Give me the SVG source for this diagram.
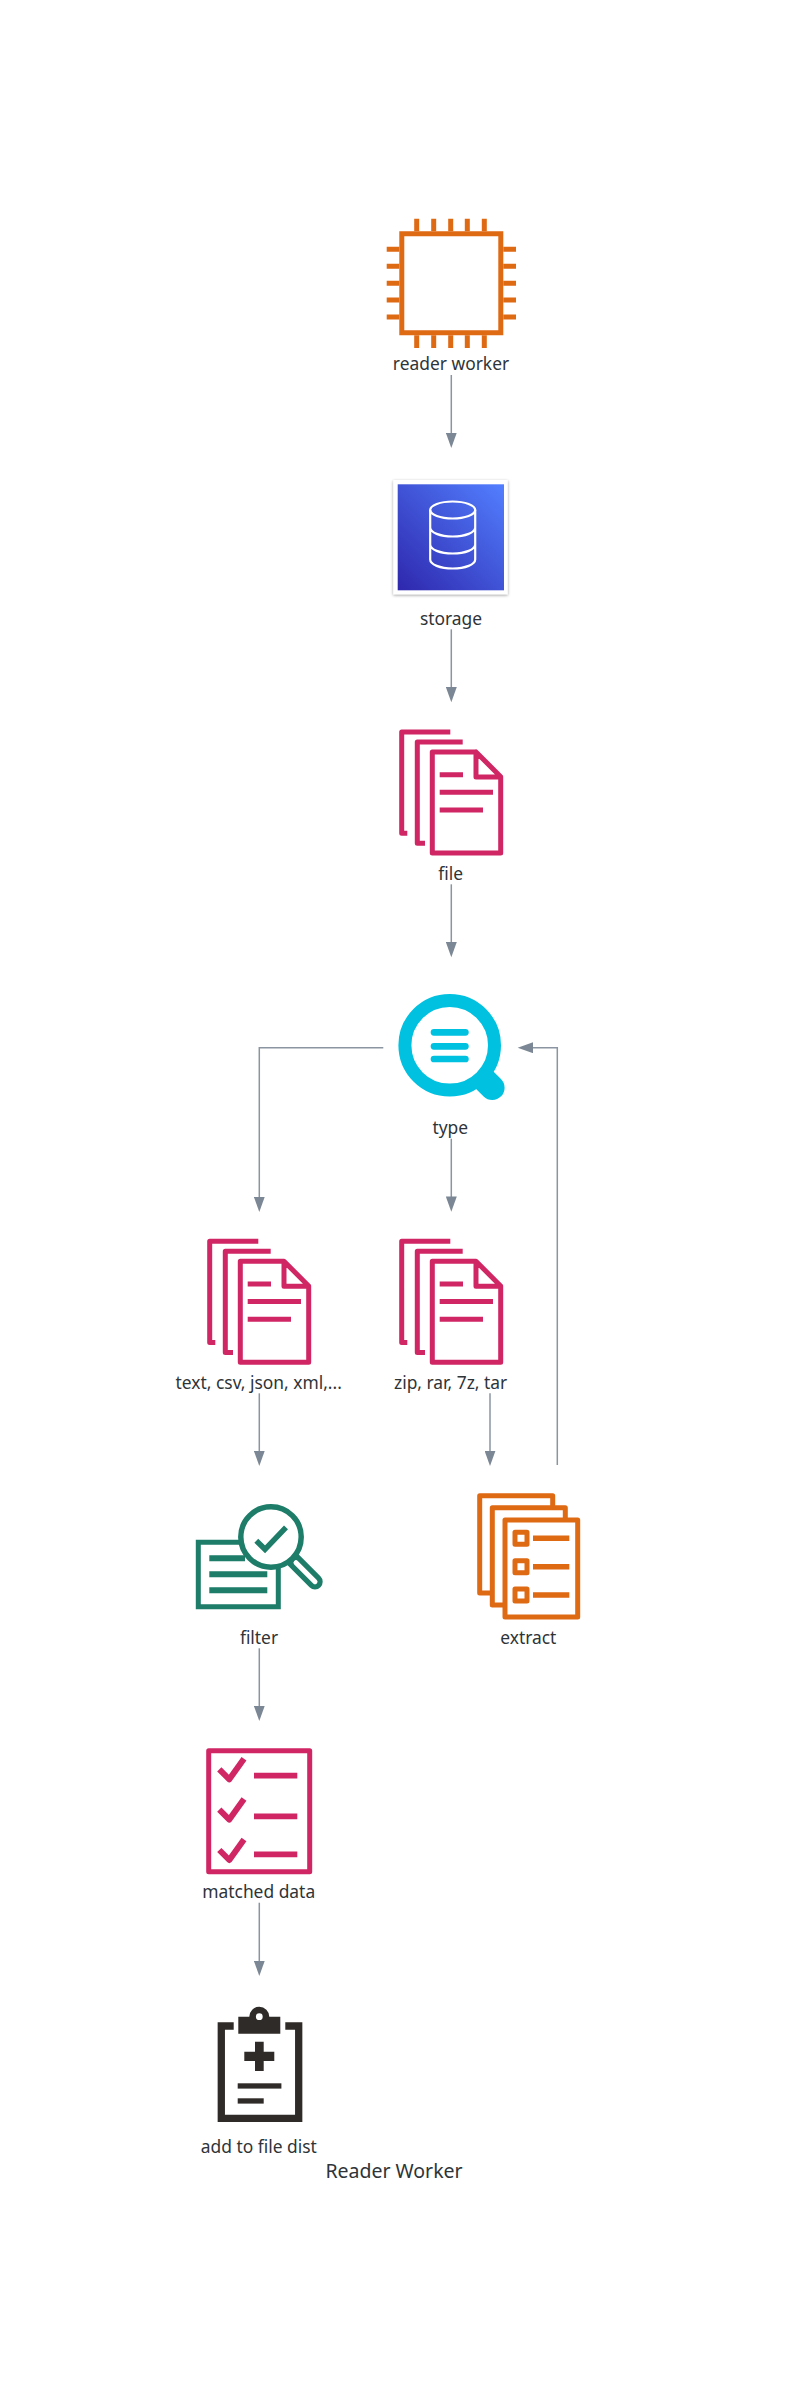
<svg xmlns="http://www.w3.org/2000/svg" width="788" height="2383" viewBox="0 0 788 2383">
<style>
text{font-family:"Noto Sans","Open Sans",sans-serif;font-size:17.4px;fill:#2e3438;text-anchor:middle}
.t{font-size:19.5px}
.c{fill:none;stroke:#8a95a1;stroke-width:1.5}
.o,.p,.g,.k,.b{fill:none}
.o{stroke:#df6a14;stroke-width:5;stroke-linejoin:round}
.p{stroke:#d02664;stroke-width:5;stroke-linejoin:round}
.g{stroke:#1d7d69;stroke-width:5.5}
.k{stroke:#2f2b28}
.b{stroke:#00c1e0;stroke-width:6.7;stroke-linecap:round}
</style>
<defs>
<marker id="a" markerUnits="userSpaceOnUse" markerWidth="16" markerHeight="11" refX="10.3" refY="5.5" viewBox="0 0 16 11" orient="auto"><path d="M0 0L15.3 5.5L0 11Z" fill="#7b8794"/></marker>
<linearGradient id="sg" x1="0" y1="1" x2="1" y2="0"><stop offset="0" stop-color="#2e27ad"/><stop offset="1" stop-color="#527fff"/></linearGradient>
<filter id="sh" x="-10%" y="-10%" width="120%" height="120%"><feDropShadow dx="0" dy="1" stdDeviation="1.5" flood-color="#000" flood-opacity=".4"/></filter>
<g id="docs">
<path class="p" d="M450.3 732H401.7V833.3H407.3M462.7 742H417.3V843.3H425M476 752H432.3V853H500.7V776.7L476 752V777H500.7M439.7 774.7H463M439.7 792.3H493M439.7 810H483"/>
</g>
</defs>
<rect width="788" height="2383" fill="#fff"/>
<g id="connectors">
<path class="c" d="M451.3 375V443" marker-end="url(#a)"/>
<path class="c" d="M451.3 629.3V697.3" marker-end="url(#a)"/>
<path class="c" d="M451.3 884.3V952.3" marker-end="url(#a)"/>
<path class="c" d="M383.3 1047.7H259.3V1207" marker-end="url(#a)"/>
<path class="c" d="M451.3 1138.7V1206.7" marker-end="url(#a)"/>
<path class="c" d="M557.3 1465V1047.7H522.7" marker-end="url(#a)"/>
<path class="c" d="M259.3 1393.3V1461" marker-end="url(#a)"/>
<path class="c" d="M490 1393.3V1461" marker-end="url(#a)"/>
<path class="c" d="M259.3 1648.3V1716" marker-end="url(#a)"/>
<path class="c" d="M259.3 1902.7V1971" marker-end="url(#a)"/>
</g>
<g id="reader-worker">
<path class="o" style="stroke-linejoin:miter" d="M401.8 233.8H500.8V332.8H401.8Z"/>
<path class="o" style="stroke-linejoin:miter" d="M416.7 218.7V231.3M433.7 218.7V231.3M450.7 218.7V231.3M467.3 218.7V231.3M484.3 218.7V231.3M416.7 335.3V348M433.7 335.3V348M450.7 335.3V348M467.3 335.3V348M484.3 335.3V348M386.7 249.3H399.3M386.7 266.3H399.3M386.7 283.3H399.3M386.7 300H399.3M386.7 317H399.3M503.3 249.3H516M503.3 266.3H516M503.3 283.3H516M503.3 300H516M503.3 317H516"/>
<text x="451" y="370">reader worker</text>
</g>
<g id="storage">
<rect x="393.3" y="480" width="114.4" height="114.3" fill="#fff" filter="url(#sh)"/>
<rect x="397.7" y="484.3" width="106.3" height="106" fill="url(#sg)"/>
<g fill="none" stroke="#fff" stroke-width="2.2">
<ellipse cx="452.7" cy="510" rx="22.5" ry="8.5"/>
<path d="M430.2 510V559.5C430.2 564.5 440 568.5 452.7 568.5S475.2 564.5 475.2 559.5V510M430.2 527.5C430.2 532.5 440 536.5 452.7 536.5S475.2 532.5 475.2 527.5M430.2 544.5C430.2 549.5 440 553.5 452.7 553.5S475.2 549.5 475.2 544.5"/>
</g>
<text x="451" y="625">storage</text>
</g>
<g id="file">
<use href="#docs"/>
<text x="450.7" y="879.6">file</text>
</g>
<g id="type">
<path d="M481.5 1077L492.3 1087.7" stroke="#00c1e0" stroke-width="24.6" stroke-linecap="round" fill="none"/>
<circle cx="449.7" cy="1045.3" r="44.8" fill="#fff" stroke="#00c1e0" stroke-width="13"/>
<path class="b" d="M434 1032.3H465.4M434 1046.3H465.4M434 1059H465.4"/>
<text x="450.3" y="1134">type</text>
</g>
<g id="text-files">
<use href="#docs" transform="translate(-192 509.3)"/>
<text x="258.7" y="1389">text, csv, json, xml,...</text>
</g>
<g id="zip-files">
<use href="#docs" transform="translate(0 509.3)"/>
<text x="450.6" y="1389">zip, rar, 7z, tar</text>
</g>
<g id="filter">
<path class="g" style="stroke-width:5" d="M245 1542.3H198.3V1606.7H278.3V1560"/>
<path class="g" style="stroke-width:6" d="M209.3 1558.3H245M209.3 1574.3H267.3M209.3 1590.3H267.3"/>
<path d="M293.3 1560L315 1581.7" stroke="#1d7d69" stroke-width="15.4" stroke-linecap="round" fill="none"/>
<path d="M296 1562.7L315 1581.7" stroke="#fff" stroke-width="5" stroke-linecap="round" fill="none"/>
<circle class="g" cx="271" cy="1537" r="30.2" style="fill:#fff"/>
<path class="g" d="M256.3 1540.7L265 1549.3L286 1527.3"/>
<text x="259" y="1644">filter</text>
</g>
<g id="extract">
<path class="o" d="M552.7 1507V1495.7H479.7V1593H490M565.3 1519V1507.7H492.3V1605H502.7M505 1520H577.7V1617H505Z"/>
<path class="o" d="M515 1532.3H527V1544.3H515ZM515 1560.7H527V1572.7H515ZM515 1589H527V1601H515Z"/>
<path class="o" style="stroke-width:5.5" d="M533 1538.3H569.3M533 1566.7H569.3M533 1595H569.3"/>
<text x="528.3" y="1644">extract</text>
</g>
<g id="matched-data">
<rect class="p" x="208.7" y="1750.7" width="101" height="121"/>
<path class="p" style="stroke-width:6" d="M219.3 1769.3L229.3 1779.3L244 1758.7M219.3 1809.6L229.3 1819.6L244 1799M219.3 1850L229.3 1860L244 1839.4"/>
<path class="p" style="stroke-width:5.7" d="M254 1775.7H297.3M254 1816.3H297.3M254 1854.3H297.3"/>
<text x="258.7" y="1898.3">matched data</text>
</g>
<g id="add-to-file-dist">
<path class="k" style="stroke-width:7.3" d="M233.7 2026H221.3V2118.3H298.7V2026H285.3"/>
<path d="M238.3 2033.7H280.3V2016.7H269.3A10 10 0 0 0 249.3 2016.7H238.3Z" fill="#2f2b28"/>
<circle cx="259.3" cy="2016.7" r="3.4" fill="#fff"/>
<path d="M255 2041.7H263.7V2051.7H274.3V2061H263.7V2071H255V2061H244.3V2051.7H255Z" fill="#2f2b28"/>
<rect x="237.7" y="2083.3" width="43.7" height="5.3" fill="#2f2b28"/>
<rect x="237.7" y="2098.3" width="26" height="5.3" fill="#2f2b28"/>
<text x="258.8" y="2153">add to file dist</text>
</g>
<g id="title"><text class="t" x="394" y="2178.3">Reader Worker</text></g>
</svg>
